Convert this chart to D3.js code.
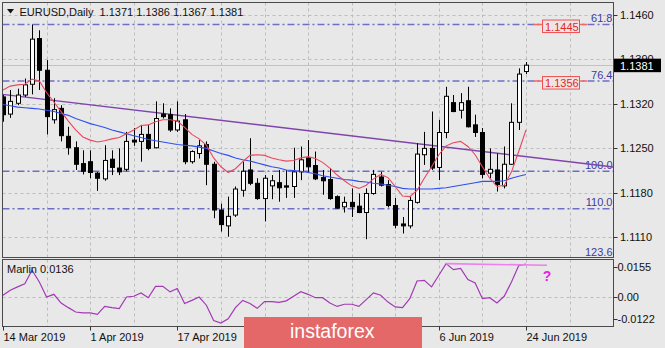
<!DOCTYPE html>
<html>
<head>
<meta charset="utf-8">
<script src="https://cdn.jsdelivr.net/npm/d3@7"></script>
<style>
  html, body { margin: 0; padding: 0; background: #e8e8e8; }
  svg { display: block; font-family: "Liberation Sans", Arial, sans-serif; }
</style>
</head>
<body>
<svg id="chart" width="665" height="348"></svg>
<script>
// ---- EURUSD daily bars ----
const dates = ["2019-03-14","2019-03-15","2019-03-18","2019-03-19","2019-03-20","2019-03-21","2019-03-22","2019-03-25","2019-03-26","2019-03-27","2019-03-28","2019-03-29",
"2019-04-01","2019-04-02","2019-04-03","2019-04-04","2019-04-05","2019-04-08","2019-04-09","2019-04-10","2019-04-11","2019-04-12","2019-04-15","2019-04-16","2019-04-17","2019-04-18","2019-04-19","2019-04-22","2019-04-23","2019-04-24","2019-04-25","2019-04-26","2019-04-29","2019-04-30",
"2019-05-01","2019-05-02","2019-05-03","2019-05-06","2019-05-07","2019-05-08","2019-05-09","2019-05-10","2019-05-13","2019-05-14","2019-05-15","2019-05-16","2019-05-17","2019-05-20","2019-05-21","2019-05-22","2019-05-23","2019-05-24","2019-05-27","2019-05-28","2019-05-29","2019-05-30","2019-05-31",
"2019-06-03","2019-06-04","2019-06-05","2019-06-06","2019-06-07","2019-06-10","2019-06-11","2019-06-12","2019-06-13","2019-06-14","2019-06-17","2019-06-18","2019-06-19","2019-06-20","2019-06-21","2019-06-24"];

const opens  = [1.1331,1.1304,1.1321,1.1334,1.1351,1.1423,1.1373,1.1295,1.1313,1.1269,1.1251,1.1226,1.1229,1.1211,1.1202,1.1233,1.1219,1.1217,1.1263,1.1261,
1.1272,1.1251,1.1304,1.1303,1.1279,1.1295,1.1229,1.1242,1.1256,1.1225,1.1153,1.1128,1.1145,1.1184,1.1216,1.1195,1.1171,1.1191,1.1196,1.1191,
1.1190,1.1213,1.1235,1.1223,1.1204,1.1201,1.1174,1.1158,1.1165,1.1159,1.1149,1.1179,1.1205,1.1193,1.1160,1.1131,1.1128,1.1165,1.1240,1.1250,
1.1220,1.1275,1.1322,1.1310,1.1325,1.1287,1.1275,1.1211,1.1216,1.1191,1.1225,1.1291,1.1371];
const highs  = [1.1334,1.1342,1.1344,1.1360,1.1445,1.1436,1.1389,1.1329,1.1318,1.1284,1.1261,1.1247,1.1247,1.1213,1.1255,1.1247,1.1250,1.1276,1.1282,1.1287,
1.1287,1.1324,1.1321,1.1313,1.1324,1.1304,1.1247,1.1263,1.1261,1.1229,1.1163,1.1174,1.1190,1.1229,1.1266,1.1203,1.1208,1.1208,1.1216,1.1216,
1.1251,1.1253,1.1263,1.1245,1.1216,1.1219,1.1176,1.1174,1.1187,1.1179,1.1187,1.1216,1.1213,1.1200,1.1172,1.1142,1.1174,1.1258,1.1276,1.1308,
1.1295,1.1347,1.1334,1.1337,1.1347,1.1303,1.1282,1.1250,1.1242,1.1253,1.1321,1.1376,1.1386];
const lows   = [1.1292,1.1298,1.1318,1.1331,1.1335,1.1342,1.1272,1.1289,1.1261,1.1240,1.1216,1.1209,1.1203,1.1183,1.1199,1.1208,1.1208,1.1214,1.1254,1.1229,
1.1247,1.1250,1.1297,1.1276,1.1276,1.1225,1.1226,1.1234,1.1192,1.1140,1.1119,1.1111,1.1142,1.1174,1.1192,1.1169,1.1135,1.1170,1.1166,1.1172,
1.1172,1.1200,1.1213,1.1200,1.1177,1.1169,1.1155,1.1149,1.1142,1.1148,1.1107,1.1177,1.1190,1.1157,1.1124,1.1116,1.1124,1.1163,1.1224,1.1216,
1.1200,1.1266,1.1307,1.1297,1.1283,1.1268,1.1203,1.1203,1.1182,1.1187,1.1224,1.1279,1.1367];
const closes = [1.1303,1.1324,1.1334,1.1350,1.1422,1.1373,1.1300,1.1311,1.1270,1.1251,1.1225,1.1214,1.1212,1.1203,1.1231,1.1220,1.1213,1.1261,1.1260,1.1272,
1.1250,1.1297,1.1300,1.1279,1.1293,1.1229,1.1245,1.1254,1.1225,1.1153,1.1130,1.1143,1.1186,1.1214,1.1195,1.1171,1.1203,1.1199,1.1188,1.1189,
1.1213,1.1232,1.1221,1.1202,1.1199,1.1171,1.1156,1.1165,1.1158,1.1149,1.1179,1.1209,1.1192,1.1160,1.1129,1.1128,1.1168,1.1241,1.1250,1.1219,
1.1275,1.1332,1.1308,1.1322,1.1284,1.1275,1.1209,1.1217,1.1193,1.1225,1.1291,1.1367,1.1381];

// ---- moving averages (fast = red, slow = blue) ----
const maFast = [1.1342,1.1348,1.1350,1.1351,1.1359,1.1356,1.1338,1.1323,1.1308,1.1293,
1.1279,1.1268,1.1263,1.1260,1.1262,1.1265,1.1267,1.1273,1.1279,1.1286,
1.1287,1.1292,1.1295,1.1295,1.1293,1.1283,1.1272,1.1265,1.1255,1.1235,
1.1221,1.1212,1.1218,1.1229,1.1239,1.1240,1.1239,1.1235,1.1232,1.1230,
1.1231,1.1235,1.1237,1.1234,1.1228,1.1219,1.1208,1.1199,1.1191,1.1187,
1.1192,1.1202,1.1209,1.1204,1.1190,1.1175,1.1174,1.1184,1.1203,1.1221,
1.1240,1.1254,1.1259,1.1261,1.1253,1.1240,1.1221,1.1203,1.1190,1.1192,
1.1213,1.1245,1.1279];
const maSlow = [1.1319,1.1317,1.1315,1.1314,1.1313,1.1312,1.1310,1.1308,1.1305,1.1302,
1.1297,1.1293,1.1289,1.1286,1.1283,1.1279,1.1276,1.1273,1.1270,1.1267,
1.1264,1.1262,1.1260,1.1258,1.1256,1.1255,1.1254,1.1252,1.1250,1.1246,
1.1242,1.1239,1.1235,1.1232,1.1230,1.1227,1.1224,1.1221,1.1219,1.1216,
1.1215,1.1214,1.1212,1.1210,1.1207,1.1205,1.1203,1.1201,1.1200,1.1198,
1.1197,1.1195,1.1194,1.1192,1.1190,1.1187,1.1186,1.1186,1.1186,1.1186,
1.1187,1.1188,1.1190,1.1192,1.1194,1.1196,1.1198,1.1198,1.1198,1.1199,
1.1203,1.1206,1.1209];

// ---- Marlin oscillator ----
const marlin = [0.0007,0.0028,0.0042,0.0055,0.0111,0.0062,0.0000,0.0011,-0.0025,-0.0044,
-0.0062,-0.0066,-0.0066,-0.0072,-0.0039,-0.0044,-0.0048,0.0000,0.0003,0.0017,
-0.0003,0.0044,0.0044,0.0021,0.0035,-0.0027,-0.0014,0.0000,-0.0034,-0.0097,
-0.0108,-0.0090,-0.0044,-0.0014,-0.0027,-0.0047,-0.0019,-0.0019,-0.0022,-0.0016,
0.0003,0.0022,0.0011,-0.0003,-0.0003,-0.0025,-0.0039,-0.0030,-0.0030,-0.0039,
-0.0011,0.0017,0.0007,-0.0021,-0.0041,-0.0044,-0.0007,0.0066,0.0069,0.0042,
0.0090,0.0138,0.0113,0.0118,0.0072,0.0058,-0.0007,-0.0003,-0.0025,0.0003,
0.0062,0.0130,0.0136];

// ---- axes ----
const priceTicks = [1.1110, 1.1180, 1.1250, 1.1320, 1.1390, 1.1460];
const marlinTicks = [0.0155, 0.00, -0.0122];
const marlinTickLabels = ["0.0155", "0.00", "-0.0122"];
// labelled dates (3 May and 21 May sit under the publisher banner, so only their ticks exist)
const dateTicks = ["2019-03-14","2019-04-01","2019-04-17","2019-05-03","2019-05-21","2019-06-06","2019-06-24"];
const dateLabelled = [true, true, true, false, false, true, true];

// ---- drawn objects ----
const fibLevels = ["61.8", "76.4", "100.0", "110.0", "123.6"];
const fibPrices = [1.1445, 1.1356, 1.1214, 1.1155, 1.1076];
const taggedFibs = [0, 1];                     // levels with a price tag
const trendIdx = [0, 72];
const trendPrice = [1.1335, 1.1237];
const divergenceIdx = [61, 74.9];
const divergenceVal = [0.0138, 0.0131];

// ---- layout ----
const W = 665, H = 348;
const L = 2.5, R = 613.5;
const mainTop = 2.5, mainBot = 257.5;
const subTop = 259.5, subBot = 326.5;

const svg = d3.select("#chart");
svg.append("rect").attr("width", W).attr("height", H).attr("fill", "#e8e8e8");

const x = d3.scaleLinear().domain([0, dates.length - 1]).range([3, 526]);
const y = d3.scaleLinear().domain([1.1110, 1.1460]).range([237.3, 15]);
const ym = d3.scaleLinear().domain([-0.0122, 0.0155]).range([subBot, subTop]);
const px = v => Math.round(v) + 0.5;

const defs = svg.append("defs");
defs.append("clipPath").attr("id", "clipMain").append("rect")
  .attr("x", L).attr("y", mainTop).attr("width", R - L).attr("height", mainBot - mainTop);
defs.append("clipPath").attr("id", "clipSub").append("rect")
  .attr("x", L).attr("y", subTop).attr("width", R - L).attr("height", subBot - subTop);

const main = svg.append("g").attr("clip-path", "url(#clipMain)");
const sub = svg.append("g").attr("clip-path", "url(#clipSub)");

const gridColor = "#bdbdbd";
const gridIdx = d3.range(6, 85, 6);

// vertical grid in both panes
[[main, mainTop, mainBot], [sub, subTop, subBot]].forEach(([g, t, b]) => {
  g.selectAll(null).data(gridIdx).join("line")
    .attr("x1", d => px(x(d))).attr("x2", d => px(x(d)))
    .attr("y1", t).attr("y2", b)
    .attr("stroke", gridColor).attr("stroke-dasharray", "3,3").attr("stroke-width", 1);
});
// horizontal grid
main.selectAll(null).data(priceTicks).join("line")
  .attr("x1", L).attr("x2", R)
  .attr("y1", d => px(y(d))).attr("y2", d => px(y(d)))
  .attr("stroke", gridColor).attr("stroke-dasharray", "3,3");
sub.append("line").attr("x1", L).attr("x2", R)
  .attr("y1", px(ym(0))).attr("y2", px(ym(0)))
  .attr("stroke", gridColor).attr("stroke-dasharray", "3,3");

// Fibonacci levels
const fibColor = "#6e6ec8";
fibPrices.forEach((p, k) => {
  const ly = y(p);
  main.append("line").attr("x1", L).attr("x2", R).attr("y1", ly).attr("y2", ly)
    .attr("stroke", fibColor).attr("stroke-width", 1.4).attr("stroke-dasharray", "7,3,2,3");
  main.append("text").attr("x", 612.5).attr("y", ly - 2.5)
    .attr("text-anchor", "end").attr("font-size", 11).attr("fill", "#3c3ca0")
    .text(fibLevels[k]);
});
taggedFibs.forEach(k => {
  const ly = y(fibPrices[k]);
  main.append("line").attr("x1", 533).attr("x2", 587).attr("y1", ly).attr("y2", ly)
    .attr("stroke", "#f06a6a").attr("stroke-width", 1.4);
  main.append("rect").attr("x", 542.5).attr("y", ly - 4.5).attr("width", 37).attr("height", 12.5)
    .attr("fill", "#eee4e4").attr("stroke", "#f05050").attr("stroke-width", 1);
  main.append("text").attr("x", 545).attr("y", ly + 6)
    .attr("font-size", 11).attr("fill", "#e02828").text(fibPrices[k].toFixed(4));
});

// bid line
const last = dates.length - 1;
main.append("line").attr("x1", L).attr("x2", R)
  .attr("y1", px(y(closes[last]))).attr("y2", px(y(closes[last])))
  .attr("stroke", "#c2c2c2");

// trend line, extended across the pane
const slope = (trendPrice[1] - trendPrice[0]) / (trendIdx[1] - trendIdx[0]);
const iL = x.invert(L), iR = x.invert(R);
main.append("line")
  .attr("x1", L).attr("y1", y(trendPrice[0] + slope * (iL - trendIdx[0])))
  .attr("x2", R).attr("y2", y(trendPrice[0] + slope * (iR - trendIdx[0])))
  .attr("stroke", "#8044ad").attr("stroke-width", 1.4);

// candles
const bars = dates.map((d, i) => ({ i, o: opens[i], h: highs[i], l: lows[i], c: closes[i] }));
const cg = main.append("g");
cg.selectAll("line").data(bars).join("line")
  .attr("x1", d => px(x(d.i))).attr("x2", d => px(x(d.i)))
  .attr("y1", d => y(d.h)).attr("y2", d => y(d.l))
  .attr("stroke", "#000").attr("stroke-width", 1);
cg.selectAll("rect").data(bars).join("rect")
  .attr("x", d => px(x(d.i)) - 2).attr("width", 4)
  .attr("y", d => y(Math.max(d.o, d.c)))
  .attr("height", d => Math.max(1, y(Math.min(d.o, d.c)) - y(Math.max(d.o, d.c))))
  .attr("fill", d => d.c >= d.o ? "#ffffff" : "#000000")
  .attr("stroke", "#000").attr("stroke-width", 1);

// moving averages
const maLine = d3.line().x((d, i) => x(i)).y(d => y(d));
main.append("path").attr("d", maLine(maSlow)).attr("fill", "none")
  .attr("stroke", "#2f4ff0").attr("stroke-width", 1.1);
main.append("path").attr("d", maLine(maFast)).attr("fill", "none")
  .attr("stroke", "#e8485e").attr("stroke-width", 1.1);

// Marlin pane
sub.append("path").attr("d", d3.line().x((d, i) => x(i)).y(d => ym(d))(marlin))
  .attr("fill", "none").attr("stroke", "#a23ab4").attr("stroke-width", 1.2);
sub.append("line")
  .attr("x1", x(divergenceIdx[0])).attr("y1", ym(divergenceVal[0]))
  .attr("x2", x(divergenceIdx[1])).attr("y2", ym(divergenceVal[1]))
  .attr("stroke", "#ef80f0").attr("stroke-width", 1.6);
svg.append("text").attr("x", 547).attr("y", 280.5).attr("text-anchor", "middle")
  .attr("font-size", 14).attr("font-weight", "bold").attr("fill", "#e622e6").text("?");
svg.append("text").attr("x", 7).attr("y", 272.5).attr("font-size", 11).attr("fill", "#111")
  .text("Marlin " + marlin[last].toFixed(4));

// pane frames
[[mainTop, mainBot], [subTop, subBot]].forEach(([t, b]) => {
  svg.append("rect").attr("x", L).attr("y", t).attr("width", R - L).attr("height", b - t)
    .attr("fill", "none").attr("stroke", "#4a4a4a").attr("stroke-width", 1);
});

// price axis
const ax = svg.append("g").attr("font-size", 11).attr("fill", "#111");
priceTicks.forEach(p => {
  ax.append("line").attr("x1", R).attr("x2", R + 4).attr("y1", px(y(p))).attr("y2", px(y(p)))
    .attr("stroke", "#333");
  ax.append("text").attr("x", 620).attr("y", y(p) + 4).text(p.toFixed(4));
});
// current price tag
const cy = y(closes[last]);
svg.append("rect").attr("x", 614).attr("y", cy - 6.5).attr("width", 47).attr("height", 13.5).attr("fill", "#000");
svg.append("text").attr("x", 620).attr("y", cy + 4.5).attr("font-size", 11).attr("fill", "#fff")
  .text(closes[last].toFixed(4));

// Marlin axis
marlinTicks.forEach((v, k) => {
  const ty = Math.min(Math.max(ym(v), 266.5), 319);
  ax.append("line").attr("x1", R).attr("x2", R + 4).attr("y1", px(ty)).attr("y2", px(ty)).attr("stroke", "#333");
  ax.append("text").attr("x", 617.5).attr("y", ty + 4).text(marlinTickLabels[k]);
});

// date axis
const parse = d3.timeParse("%Y-%m-%d");
const fmt = d3.timeFormat("%-d %b %Y");
dateTicks.forEach((ds, k) => {
  const xi = px(x(dates.indexOf(ds)));
  ax.append("line").attr("x1", xi).attr("x2", xi).attr("y1", subBot).attr("y2", subBot + 4).attr("stroke", "#333");
  if (dateLabelled[k]) ax.append("text").attr("x", xi).attr("y", 340.5).text(fmt(parse(ds)));
});

// title
svg.append("path").attr("d", "M7,9 L14,9 L10.5,13.5 Z").attr("fill", "#111");
svg.append("text").attr("x", 19.5).attr("y", 15.7).attr("font-size", 11).attr("fill", "#111")
  .attr("xml:space", "preserve")
  .text("EURUSD,Daily  " + [opens[last], highs[last], lows[last], closes[last]].map(v => v.toFixed(4)).join(" "));

// publisher banner
svg.append("rect").attr("x", 244).attr("y", 317).attr("width", 178).attr("height", 31).attr("fill", "#e46868");
svg.append("text").attr("x", 290).attr("y", 337.5).attr("font-size", 19.5).attr("fill", "#ffffff")
  .text("instaforex");
</script>
</body>
</html>
